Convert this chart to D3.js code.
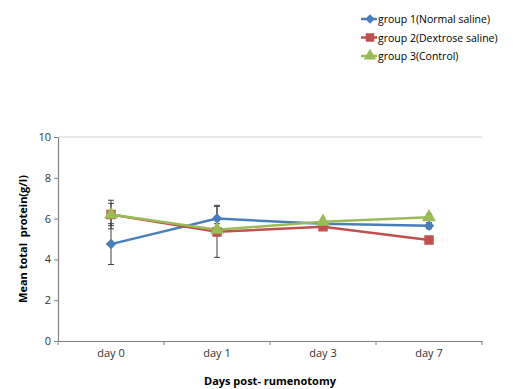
<!DOCTYPE html>
<html>
<head>
<meta charset="utf-8">
<script src="https://cdn.jsdelivr.net/npm/d3@7"></script>
<style>
  body { margin: 0; background: #fff; }
  text { font-family: "Open Sans", "Liberation Sans", sans-serif; }
</style>
</head>
<body>
<div id="viz"></div>
<script>
const days = ['day 0', 'day 1', 'day 3', 'day 7'];
const groupNames = ['group 1(Normal saline)', 'group 2(Dextrose saline)', 'group 3(Control)'];
const group1 = [4.75, 6.0, 5.75, 5.65];
const group2 = [6.2, 5.35, 5.6, 4.95];
const group3 = [6.2, 5.45, 5.85, 6.07];
const group1Err = [1.0, 0.65, 0.1, 0.15];
const group2Err = [0.7, 1.25, 0.1, 0.1];
const group3Err = [0.55, 0.3, 0.1, 0.15];
const yTicks = [0, 2, 4, 6, 8, 10];

const colors = ['#4a7ebb', '#c0504d', '#9bbb59'];
// diamond = square turned 45 degrees
const shapes = [d3.symbolSquare, d3.symbolSquare, d3.symbolTriangle];
const turns = [45, 0, 0];
const sizes = [55, 90, 85];

const series = [group1, group2, group3].map((vals, i) => ({
  name: groupNames[i],
  color: colors[i],
  shape: shapes[i],
  turn: turns[i],
  size: sizes[i],
  points: vals.map((v, j) => ({ day: days[j], value: v, err: [group1Err, group2Err, group3Err][i][j] }))
}));

const width = 513, height = 389;
const margin = { left: 58, right: 31, top: 137, bottom: 48 };

const svg = d3.select('#viz').append('svg')
  .attr('width', width)
  .attr('height', height);

const x = d3.scaleBand()
  .domain(days)
  .range([margin.left, width - margin.right]);

const y = d3.scaleLinear()
  .domain([0, 10])
  .range([height - margin.bottom, margin.top]);

// top gridline
svg.append('line')
  .attr('x1', x.range()[0]).attr('x2', x.range()[1])
  .attr('y1', y(10)).attr('y2', y(10))
  .attr('stroke', '#d0d0d0')
  .attr('stroke-width', 1);

// y axis
const yAxis = svg.append('g')
  .attr('transform', `translate(${margin.left},0)`)
  .call(d3.axisLeft(y).tickValues(yTicks).tickSize(4).tickSizeOuter(0));
yAxis.select('.domain').attr('stroke', '#808080').attr('stroke-width', 1.2);
yAxis.selectAll('.tick line').attr('stroke', '#808080');
yAxis.selectAll('.tick text').attr('fill', '#333').style('font-size', '11px').attr('x', -7);

// x axis
const xAxis = svg.append('g')
  .attr('transform', `translate(0,${y(0)})`)
  .call(d3.axisBottom(x).tickSize(0).tickPadding(8));
xAxis.select('.domain').attr('stroke', '#808080').attr('stroke-width', 1.2);
xAxis.selectAll('.tick text').attr('fill', '#333').style('font-size', '11px');

// tick marks between categories
const bounds = days.map(d => x(d)).concat([x.range()[1]]);
svg.append('g')
  .selectAll('line')
  .data(bounds)
  .join('line')
  .attr('x1', d => d).attr('x2', d => d)
  .attr('y1', y(0)).attr('y2', y(0) + 4)
  .attr('stroke', '#808080');

const cx = d => x(d) + x.bandwidth() / 2;

// error bars
series.forEach(s => {
  const g = svg.append('g').attr('stroke', '#404040').attr('stroke-width', 1);
  s.points.forEach(p => {
    g.append('line')
      .attr('x1', cx(p.day)).attr('x2', cx(p.day))
      .attr('y1', y(p.value - p.err)).attr('y2', y(p.value + p.err));
    [p.value - p.err, p.value + p.err].forEach(v => {
      g.append('line')
        .attr('x1', cx(p.day) - 3).attr('x2', cx(p.day) + 3)
        .attr('y1', y(v)).attr('y2', y(v));
    });
  });
});

// lines
const line = d3.line()
  .x(d => cx(d.day))
  .y(d => y(d.value));

series.forEach(s => {
  svg.append('path')
    .datum(s.points)
    .attr('fill', 'none')
    .attr('stroke', s.color)
    .attr('stroke-width', 2.5)
    .attr('d', line);
});

// markers
series.forEach(s => {
  svg.append('g')
    .selectAll('path')
    .data(s.points)
    .join('path')
    .attr('transform', d => `translate(${cx(d.day)},${y(d.value)}) rotate(${s.turn})`)
    .attr('d', d3.symbol().type(s.shape).size(s.size))
    .attr('fill', s.color);
});

// axis titles
svg.append('text')
  .attr('transform', `translate(27,${(y(0) + y(10)) / 2}) rotate(-90)`)
  .attr('text-anchor', 'middle')
  .style('font-size', '11px')
  .style('font-weight', 'bold')
  .attr('fill', '#000')
  .attr('xml:space', 'preserve')
  .text('Mean total  protein(g/l)');

svg.append('text')
  .attr('x', (x.range()[0] + x.range()[1]) / 2)
  .attr('y', 385)
  .attr('text-anchor', 'middle')
  .style('font-size', '11px')
  .style('font-weight', 'bold')
  .attr('fill', '#000')
  .text('Days post- rumenotomy');

// legend
const legend = svg.append('g')
  .selectAll('g')
  .data(series)
  .join('g')
  .attr('transform', (d, i) => `translate(370,${19 + i * 18.5})`);

legend.append('line')
  .attr('x1', -9).attr('x2', 7)
  .attr('stroke', d => d.color)
  .attr('stroke-width', 2.5);

legend.append('path')
  .attr('transform', d => `rotate(${d.turn})`)
  .attr('d', d => d3.symbol().type(d.shape).size(d.size * 0.8)())
  .attr('fill', d => d.color);

legend.append('text')
  .attr('x', 8)
  .attr('y', 4)
  .style('font-size', '10.5px')
  .attr('fill', '#000')
  .text(d => d.name);
</script>
</body>
</html>
